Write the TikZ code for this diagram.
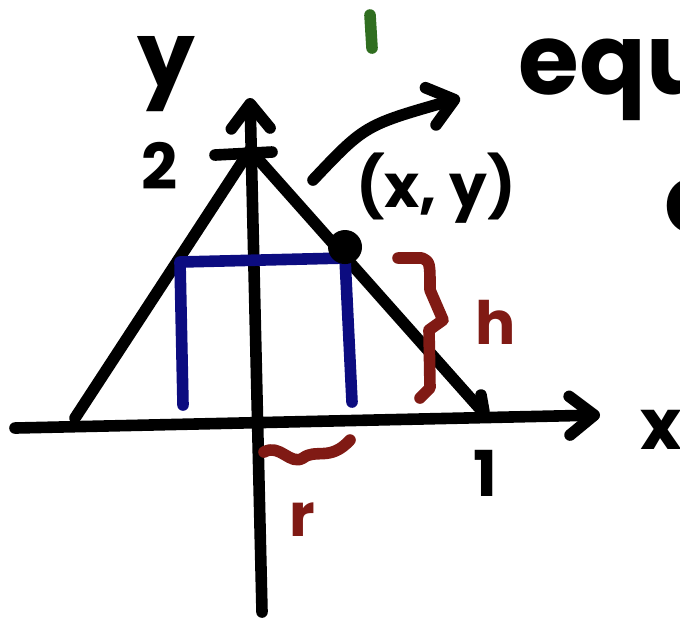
\documentclass[tikz,border=0pt]{standalone}
\usepackage{fontspec}
\setmainfont{Poppins}
\usetikzlibrary{arrows.meta}
\definecolor{penblue}{RGB}{12,12,128}
\definecolor{penred}{RGB}{128,26,20}
\definecolor{pengreen}{RGB}{48,110,32}
\tikzset{
  pen/.style={line width=3.3pt, line cap=round, line join=round},
  tip/.style={-{Straight Barb[length=7pt,width=11pt,round]}},
  hand/.style={inner sep=0pt, font=\bfseries\fontsize{#1}{#1}\selectfont},
}
\begin{document}
\begin{tikzpicture}[x=0.01cm, y=-0.01cm]
    \useasboundingbox (0,0) rectangle (680,629);
    \clip (0,0) rectangle (680,629);
    % axes
    \draw[pen, tip] (15,428) -- (600,415);
    \draw[pen, tip] (262,612) -- (250,98);
    \node[hand=26] (ylab) at (166,74) {y};
    \node[hand=20, anchor=west] (xlab) at (640,430) {x};
    % triangle and ticks
    \draw[pen] (75,418) -- (250,150) -- (481,410);
    \draw[pen] (215,155) -- (272,152);
    \draw[pen] (481,395) -- (484,412);
    \node[hand=18] (two) at (160,166) {2};
    \node[hand=18] (one) at (485,473) {1};
    % rectangle
    \draw[pen, penblue] (183,405) -- (180,262) -- (345,258) -- (352,402);
    \fill (345,247) circle[radius=0.17cm];
    \node[hand=17] (pt) at (436,188) {(x, y)};
    \coordinate (arrS) at (313,180);
    \coordinate (arrE) at (460,98);
    \draw[pen, tip] (arrS) .. controls (365,125) .. (arrE);
    \node[hand=28, anchor=west] (eq) at (518,80) {equa};
    \node[hand=28, anchor=west] (eqb) at (664,206) {o};
    \draw[pen, pengreen] (370,15) -- (372,48);
    % height brace
    \draw[pen, penred] (398,258) -- (422,258) .. controls (430,262) .. (430,290)
        -- (443,320) -- (429,330) -- (430,388) -- (420,398);
    \node[hand=17, text=penred] (h) at (496,322) {h};
    % radius squiggle
    \draw[pen, penred] (264,452) .. controls (280,443) and (290,466) .. (303,458)
        .. controls (316,448) and (330,462) .. (350,440);
    \node[hand=17, text=penred] (r) at (302,520) {r};
\end{tikzpicture}
\end{document}
